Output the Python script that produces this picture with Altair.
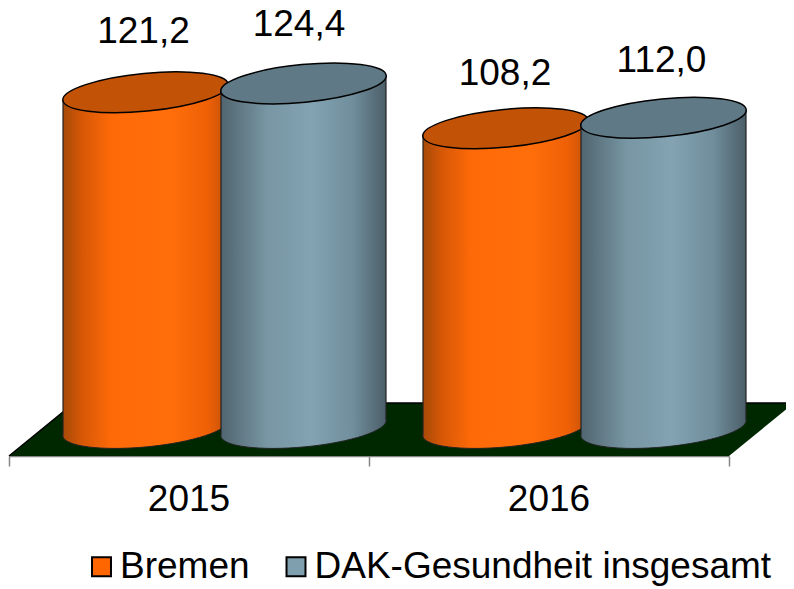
import math
import altair as alt
import pandas as pd

# --- chart values
years = ["2015", "2016"]
series = ["Bremen", "DAK-Gesundheit insgesamt"]
bremen = [121.2, 108.2]
dak = [124.4, 112.0]
labels_bremen = ["121,2", "108,2"]
labels_dak = ["124,4", "112,0"]

# --- geometry of the pseudo-3D scene (pixels per unit of the two scales)
PX_X = 360.0           # pixels per category
PX_Y = 2.77            # pixels per value unit
PLOT_W, PLOT_H = 720, 448
DEPTH_X, DEPTH_Y = 35.5 / PX_X, 28 / PX_Y       # cylinders stand mid-floor
FLOOR_X, FLOOR_Y = 65 / PX_X, 53 / PX_Y
SERIES_OFF = 79 / PX_X
HALF_W = 82.5 / PX_X
TILT = 7.6 / PX_Y      # left end of an ellipse is lower, right end is higher
FONT = "Liberation Sans"
FS = 37
ORANGE, BLUE = "#FF6600", "#7F9FAE"
ORANGE_TOP, BLUE_TOP = "#C25206", "#5F7A86"


def ellipse_path(b_over_a, deg):
    """Rotated ellipse of unit major radius, written with cubic curves."""
    k = 0.5522847
    th = math.radians(deg)

    def p(x, y):
        return (f"{x * math.cos(th) + y * math.sin(th):.4f} "
                f"{x * math.sin(th) * -1 + y * math.cos(th):.4f}")

    b = b_over_a
    return (f"M {p(-1, 0)} C {p(-1, -k * b)} {p(-k, -b)} {p(0, -b)} "
            f"C {p(k, -b)} {p(1, -k * b)} {p(1, 0)} "
            f"C {p(1, k * b)} {p(k, b)} {p(0, b)} "
            f"C {p(-k, b)} {p(-1, k * b)} {p(-1, 0)} Z")


ELLIPSE = ellipse_path(18.9 / 83.1, 5.5)
ELLIPSE_SIZE = (2 * 83.1) ** 2


def grad(stops):
    return alt.Gradient(
        gradient="linear", x1=0, x2=1, y1=0, y2=0,
        stops=[alt.GradientStop(offset=o, color=c) for o, c in stops],
    )


ORANGE_GRAD = grad([(0, "#A64A08"), (0.12, "#D85806"), (0.3, "#FF6A08"),
                    (0.65, "#FF6E0A"), (0.88, "#EE6006"), (1, "#C05008")])
BLUE_GRAD = grad([(0, "#50656F"), (0.28, "#7896A4"), (0.55, "#83A3B2"),
                  (0.8, "#708E9C"), (1, "#4B5E68")])

# --- derived tables
rows = []
for i, y in enumerate(years):
    for s, vals, labs, sign in ((series[0], bremen, labels_bremen, -1),
                                (series[1], dak, labels_dak, 1)):
        rows.append({
            "year": y, "series": s, "value": vals[i], "label": labs[i],
            "cx": i + 0.5 + sign * SERIES_OFF + DEPTH_X,
            "top": vals[i] + DEPTH_Y, "base": DEPTH_Y,
        })
cyl = pd.DataFrame(rows)

body_rows, edge_rows = [], []
for r in rows:
    key = r["year"] + r["series"]
    for side, tilt in ((-1, -TILT), (1, TILT)):
        x = r["cx"] + side * HALF_W
        body_rows.append({"key": key, "series": r["series"], "x": x,
                          "y": r["top"] + tilt, "y2": r["base"] + tilt})
        edge_rows.append({"series": r["series"], "x": x,
                          "y": r["top"] + tilt, "y2": r["base"] + tilt})
body = pd.DataFrame(body_rows)
edge = pd.DataFrame(edge_rows)

floor = pd.DataFrame({
    "x": [0, FLOOR_X, 2, 2 + FLOOR_X],
    "y": [0, FLOOR_Y, FLOOR_Y, FLOOR_Y],
    "y2": [0, 0, 0, FLOOR_Y],
})
year_text = pd.DataFrame({"x": [0.5, 1.5], "y": [0, 0], "t": years})

X = alt.X("x:Q", scale=alt.Scale(domain=[0, 2], nice=False, zero=False),
          axis=alt.Axis(values=[0, 1, 2], labels=False, title=None, grid=False,
                        tickSize=10, tickColor="#868686", domainColor="#868686",
                        domainWidth=1.5, tickWidth=1.5))
Y = alt.Y("y:Q", scale=alt.Scale(domain=[0, PLOT_H / PX_Y], nice=False), axis=None)

floor_layer = alt.Chart(floor).mark_area(
    color="#002800", opacity=1, line=alt.LineConfig(color="#000000", strokeWidth=1.5)
).encode(x=X, y=Y, y2="y2:Q")


def cylinders(name, gradient, top_color):
    c = cyl[cyl.series == name]
    b = body[body.series == name]
    e = edge[edge.series == name]
    base_el = alt.Chart(c).mark_point(
        shape=ELLIPSE, size=ELLIPSE_SIZE, filled=True, opacity=1, fill=gradient,
        stroke="#222222", strokeWidth=1,
    ).encode(x=alt.X("cx:Q"), y=alt.Y("base:Q"))
    side = alt.Chart(b).mark_area(fill=gradient, opacity=1).encode(
        x=alt.X("x:Q"), y=alt.Y("y:Q"), y2="y2:Q", detail="key:N")
    edges = alt.Chart(e).mark_rule(color="#222222", strokeWidth=1.2).encode(
        x=alt.X("x:Q"), y=alt.Y("y:Q"), y2="y2:Q")
    top_el = alt.Chart(c).mark_point(
        shape=ELLIPSE, size=ELLIPSE_SIZE, filled=True, opacity=1, fill=top_color,
        stroke="#000000", strokeWidth=1.5,
    ).encode(x=alt.X("cx:Q"), y=alt.Y("top:Q"))
    return [base_el, side, edges, top_el]


# each value label sits a little differently above its cylinder
label_nudges = {"121,2": (-2, -49.3), "124,4": (-4.5, -47.4),
                "108,2": (-0.5, -43.3), "112,0": (-2, -45.8)}
value_labels = [
    alt.Chart(cyl[cyl.label == lab]).mark_text(
        font=FONT, fontSize=FS, color="#000000", dx=ddx, dy=ddy, baseline="alphabetic"
    ).encode(x=alt.X("cx:Q"), y=alt.Y("top:Q"), text="label:N")
    for lab, (ddx, ddy) in label_nudges.items()
]

year_labels = alt.Chart(year_text).mark_text(
    font=FONT, fontSize=FS, color="#000000", dy=54.5, baseline="alphabetic"
).encode(x=alt.X("x:Q"), y=alt.Y("y:Q"), text="t:N")

legend_layer = alt.Chart(cyl).mark_point(filled=True, size=0, shape="square").encode(
    x=alt.X("cx:Q"), y=alt.Y("top:Q"),
    color=alt.Color(
        "series:N",
        scale=alt.Scale(domain=series, range=[ORANGE, BLUE]),
        legend=alt.Legend(
            title=None, orient="none", direction="horizontal", columns=2,
            legendX=74, legendY=540, symbolType="square", symbolSize=360,
            symbolStrokeColor="#000000", symbolStrokeWidth=2,
            labelFont=FONT, labelFontSize=FS, labelColor="#000000",
            labelOffset=0, columnPadding=27.5, labelLimit=600, padding=0,
            symbolOpacity=1,
        ),
    ),
)

chart = alt.layer(
    floor_layer,
    *cylinders(series[0], ORANGE_GRAD, ORANGE_TOP),
    *cylinders(series[1], BLUE_GRAD, BLUE_TOP),
    *value_labels, year_labels, legend_layer,
).properties(
    width=PLOT_W, height=PLOT_H, background="#FFFFFF",
    padding={"left": 1, "top": 0, "right": 57, "bottom": 133},
    autosize=alt.AutoSizeParams(type="none"),
).configure_view(stroke=None)

chart.save("out.html", embed_options={"renderer": "svg", "actions": False})
